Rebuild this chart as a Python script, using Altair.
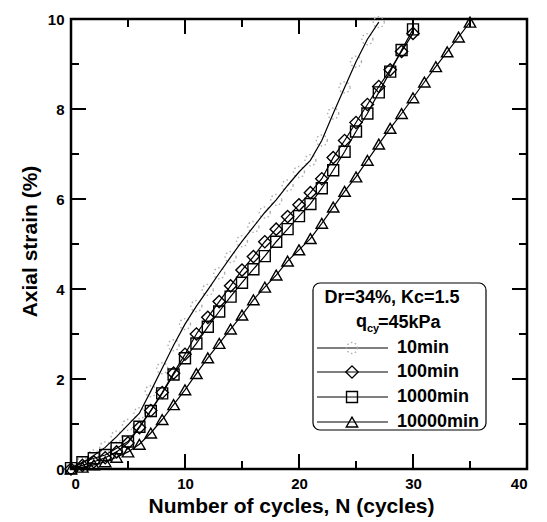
import altair as alt
import pandas as pd

# ---- data ----
N_10 = list(range(0, 28))
S_10 = [0.0, 0.14, 0.30, 0.48, 0.72, 0.98, 1.24, 1.73, 2.24, 2.75, 3.22, 3.62, 3.98, 4.35,
        4.71, 5.06, 5.38, 5.70, 5.98, 6.30, 6.60, 6.86, 7.30, 7.90, 8.48, 9.05, 9.55, 9.93]

N_100 = list(range(0, 31))
S_100 = [0.0, 0.08, 0.16, 0.25, 0.38, 0.58, 0.92, 1.30, 1.70, 2.13, 2.55, 3.00, 3.37, 3.72,
         4.07, 4.42, 4.72, 5.05, 5.33, 5.61, 5.87, 6.14, 6.45, 6.92, 7.30, 7.70, 8.10, 8.50,
         8.87, 9.28, 9.68]

N_1000 = list(range(0, 31))
S_1000 = [0.02, 0.15, 0.24, 0.31, 0.46, 0.61, 0.94, 1.29, 1.68, 2.10, 2.46, 2.79, 3.16, 3.50,
          3.83, 4.14, 4.44, 4.73, 5.05, 5.33, 5.62, 5.89, 6.24, 6.64, 7.05, 7.50, 7.90, 8.37,
          8.83, 9.31, 9.77]

N_10000 = list(range(0, 36))
S_10000 = [0.0, 0.04, 0.09, 0.16, 0.26, 0.38, 0.55, 0.80, 1.10, 1.43, 1.76, 2.12, 2.47, 2.79,
           3.11, 3.42, 3.76, 4.04, 4.31, 4.62, 4.87, 5.12, 5.46, 5.82, 6.17, 6.49, 6.86, 7.22,
           7.57, 7.90, 8.25, 8.60, 8.94, 9.27, 9.60, 9.93]

x_major = [0, 10, 20, 30, 40]
x_minor = [5, 15, 25, 35]
y_major = [0, 2, 4, 6, 8, 10]
y_minor = [1, 3, 5, 7, 9]

series_labels = ["10min", "100min", "1000min", "10000min"]
legend_line1 = "Dr=34%, Kc=1.5"
legend_q = "q"
legend_sub = "cy"
legend_q_rest = "=45kPa"
x_title = "Number of cycles, N (cycles)"
y_title = "Axial strain (%)"

# ---- layout ----
W, H = 456, 450
FONT = "Liberation Sans"
xs = alt.Scale(domain=[0, 40], nice=False, zero=False)
ys = alt.Scale(domain=[0, 10], nice=False, zero=False)

xaxis = alt.Axis(values=x_major, ticks=False, tickSize=0, domain=False, grid=False,
                 title=x_title, labelPadding=7, labelFontSize=15, titleFontSize=21,
                 titleBaseline="alphabetic", titleY=43, titleX=220, titleAlign="center",
                 format="d")
yaxis = alt.Axis(values=y_major, ticks=False, tickSize=0, domain=False, grid=False,
                 title=y_title, labelPadding=7, labelFontSize=15, titleFontSize=21,
                 titleBaseline="alphabetic", titleX=-35, titleY=222, titleAngle=-90,
                 format="d")

X = lambda f: alt.X(f, scale=xs, axis=xaxis)
Y = lambda f: alt.Y(f, scale=ys, axis=yaxis)

layers = []
CIRC_COLOR = "#adadad"
CIRC_DASH = [1.5, 2.5]

def series(n, s, shape, color, dash, size):
    df = pd.DataFrame({"N": n, "strain": s})
    base = alt.Chart(df).encode(x=X("N:Q"), y=Y("strain:Q"))
    pt_kwargs = dict(shape=shape, filled=False, color=color, size=size, strokeWidth=1.4,
                     opacity=1)
    if dash:
        pt_kwargs["strokeDash"] = dash
    return [base.mark_point(**pt_kwargs),
            base.mark_line(color="black", strokeWidth=1.2)]

layers += series(N_10, S_10, "circle", CIRC_COLOR, CIRC_DASH, 120)
layers += series(N_100, S_100, "diamond", "black", None, 150)
layers += series(N_1000, S_1000, "square", "black", None, 120)
layers += series(N_10000, S_10000, "triangle-up", "black", None, 130)

# ---- inward ticks on all four sides ----
def xticks(vals, length):
    df = pd.DataFrame({"N": vals})
    b = alt.Chart(df).mark_rule(color="black", strokeWidth=2)
    return [b.encode(x=X("N:Q"), y=alt.value(H), y2=alt.value(H - length)),
            b.encode(x=X("N:Q"), y=alt.value(0), y2=alt.value(length))]

def yticks(vals, length):
    df = pd.DataFrame({"strain": vals})
    b = alt.Chart(df).mark_rule(color="black", strokeWidth=2)
    return [b.encode(y=Y("strain:Q"), x=alt.value(0), x2=alt.value(length)),
            b.encode(y=Y("strain:Q"), x=alt.value(W), x2=alt.value(W - length))]

layers += xticks(x_major, 15) + xticks(x_minor, 8)
layers += yticks(y_major, 15) + yticks(y_minor, 8)

# ---- legend box ----
one = pd.DataFrame({"a": [0]})
layers.append(alt.Chart(one).mark_rect(fill="white", stroke="black", strokeWidth=1.2,
                                       cornerRadius=7)
              .encode(x=alt.value(242), x2=alt.value(415), y=alt.value(264), y2=alt.value(411)))

def txt(t, x, y, size=18, align="left", baseline="alphabetic"):
    return alt.Chart(one).mark_text(text=t, font=FONT, fontWeight="bold", fontSize=size,
                                    align=align, baseline=baseline, color="black").encode(
        x=alt.value(x), y=alt.value(y))

layers.append(txt(legend_line1, 321, 284, align="center"))
layers.append(txt(legend_q, 285, 308))
layers.append(txt(legend_sub, 296, 313, size=11))
layers.append(txt(legend_q_rest, 307, 309))

rows = [329, 353, 378, 403]
styles = [("circle", CIRC_COLOR, CIRC_DASH, 120), ("diamond", "black", None, 150),
          ("square", "black", None, 120), ("triangle-up", "black", None, 130)]
for lab, ry, (shape, color, dash, size) in zip(series_labels, rows, styles):
    layers.append(alt.Chart(one).mark_rule(color="black", strokeWidth=1.2).encode(
        x=alt.value(246), x2=alt.value(317), y=alt.value(ry)))
    kw = dict(shape=shape, filled=False, color=color, size=size, strokeWidth=1.4, opacity=1)
    if dash:
        kw["strokeDash"] = dash
    layers.append(alt.Chart(one).mark_point(**kw).encode(x=alt.value(281), y=alt.value(ry)))
    layers.append(txt(lab, 326, ry, baseline="middle"))

chart = alt.layer(*layers).properties(
    width=W, height=H,
    padding={"left": 63, "top": 11, "right": 12, "bottom": 52},
    autosize=alt.AutoSizeParams(type="none"),
).configure_view(stroke="black", strokeWidth=2.5).configure_axis(
    labelFont=FONT, titleFont=FONT, labelFontWeight="bold", titleFontWeight="bold",
    labelColor="black", titleColor="black"
)

chart.save("out.html", embed_options={"renderer": "svg", "actions": False})
